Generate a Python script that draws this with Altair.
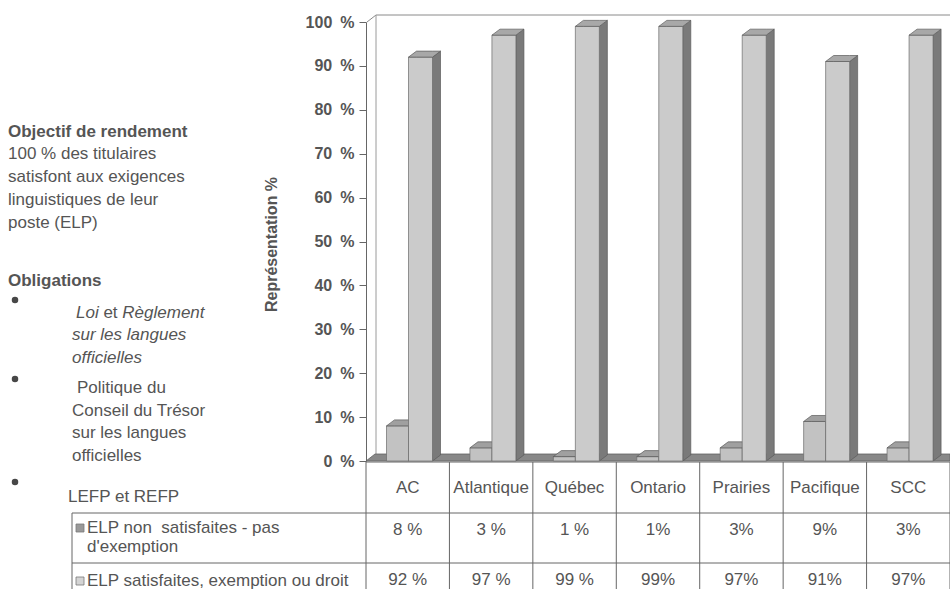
import altair as alt
import pandas as pd

# ---------------- data ----------------
categories = ["AC", "Atlantique", "Québec", "Ontario", "Prairies", "Pacifique", "SCC"]
elp_non_satisfaites = [8, 3, 1, 1, 3, 9, 3]
elp_satisfaites = [92, 97, 99, 99, 97, 91, 97]
# how each column of the table prints its percentages ("8 %" vs "1%")
pct_sep = [" ", " ", " ", "", "", "", ""]
series_labels = [["ELP non\u00a0 satisfaites - pas", "d'exemption"],
                 ["ELP satisfaites, exemption ou droit"]]
y_ticks = [0, 10, 20, 30, 40, 50, 60, 70, 80, 90, 100]
axis_title = "Représentation %"

objectif_title = "Objectif de rendement"
objectif_lines = ["100 % des titulaires", "satisfont aux exigences",
                  "linguistiques de leur", "poste (ELP)"]
obligations_title = "Obligations"
loi_words = ["Loi", "et", "Règlement"]
loi_lines = ["sur les langues", "officielles"]
politique_lines = ["Politique du", "Conseil du Trésor", "sur les langues", "officielles"]
lefp_line = "LEFP et REFP"

# ---------------- layout ----------------
W, H = 950, 589
PL, PT = 366, 22            # top-left corner of the plotting area
PW, PH = W - PL, 439        # plotting area size (0 % sits at y = 461)
N = len(categories)
COL = PW / N
PCT = PH / 100
FONT = "Liberation Sans"
TXT = "#555555"
LINE = "#666666"


def ux(px):
    return px / COL


def uy(px):
    return px / PCT


def vx(cx):
    return cx - PL


def vy(cy):
    return cy - PT


xs = alt.Scale(domain=[0, N], range=[0, PW], nice=False, zero=False)
ys = alt.Scale(domain=[0, 100], range=[PH, 0], nice=False, zero=False)
y_axis = alt.Axis(
    values=y_ticks, labelExpr="datum.value + '\u2002%'",
    labelFont=FONT, labelFontSize=16, labelFontWeight="bold", labelColor=TXT,
    labelPadding=5, tickSize=7, tickColor=LINE, domainColor=LINE, grid=False,
    title=axis_title, titleFont=FONT, titleFontSize=16, titleFontWeight="bold",
    titleColor=TXT, titleAngle=270, titleX=271 - PL, titleY=244 - PT,
    titleAlign="center", titleBaseline="middle",
)

# 3D bar geometry: front span inside a column (px), depth of the box (px)
BAR_SPANS = [(20.5, 42.5), (42.5, 66.5)]
DX, DY = ux(8), uy(6)
FRONT = ["#c2c2c2", "#cbcbcb"]
TOP = ["#a0a0a0", "#a8a8a8"]
SIDE = ["#808080", "#7a7a7a"]
SWATCH = ["#999999", "#d4d4d4"]

layers = []
one = pd.DataFrame({"a": [0]})


def rule(x, y, x2=None, y2=None, color=LINE, width=1):
    enc = dict(x=alt.value(x), y=alt.value(y))
    if x2 is not None:
        enc["x2"] = alt.value(x2)
    if y2 is not None:
        enc["y2"] = alt.value(y2)
    return alt.Chart(one).mark_rule(color=color, strokeWidth=width).encode(**enc)


# back wall and side wall outline
wx, wy = 9, 7
layers.append(rule(vx(367), vy(22), vx(367) + wx, vy(22) - wy, color="#8a8a8a"))
layers.append(rule(vx(367) + wx, vy(22) - wy, PW, vy(22) - wy, color="#8a8a8a"))
layers.append(rule(vx(367) + wx, vy(22) - wy, None, vy(461) - wy, color="#9a9a9a"))

# floor
floor = pd.DataFrame({"x": [0, ux(wx), N], "yt": [0, uy(wy), uy(wy)], "yb": [0, 0, 0]})
layers.append(
    alt.Chart(floor).mark_area(fill="#888888", stroke="#626262", strokeWidth=0.8).encode(
        x=alt.X("x:Q", scale=xs, axis=None),
        y=alt.Y("yt:Q", scale=ys, axis=y_axis),
        y2="yb:Q",
    )
)

# bars: side face, front face and top face for each series
for s, vals in enumerate([elp_non_satisfaites, elp_satisfaites]):
    fronts, sides, tops = [], [], []
    for i, v in enumerate(vals):
        x0 = i + ux(BAR_SPANS[s][0])
        x1 = i + ux(BAR_SPANS[s][1])
        k = f"{s}-{i}"
        fronts.append(dict(k=k, x0=x0, x1=x1, y0=0, y1=v))
        sides += [dict(k=k, x=x1, yt=v, yb=0),
                  dict(k=k, x=x1 + DX, yt=v + DY, yb=DY)]
        tops += [dict(k=k, x=x0, yt=v, yb=v),
                 dict(k=k, x=x0 + DX, yt=v + DY, yb=v),
                 dict(k=k, x=x1, yt=v + DY, yb=v),
                 dict(k=k, x=x1 + DX, yt=v + DY, yb=v + DY)]
    layers.append(
        alt.Chart(pd.DataFrame(sides)).mark_area(
            fill=SIDE[s], stroke="#5a5a5a", strokeWidth=0.7).encode(
            x=alt.X("x:Q", scale=xs, axis=None),
            y=alt.Y("yt:Q", scale=ys, axis=y_axis), y2="yb:Q", detail="k:N")
    )
    layers.append(
        alt.Chart(pd.DataFrame(fronts)).mark_rect(
            fill=FRONT[s], stroke="#6a6a6a", strokeWidth=0.7).encode(
            x=alt.X("x0:Q", scale=xs, axis=None), x2="x1:Q",
            y=alt.Y("y1:Q", scale=ys, axis=y_axis), y2="y0:Q")
    )
    layers.append(
        alt.Chart(pd.DataFrame(tops)).mark_area(
            fill=TOP[s], stroke="#5a5a5a", strokeWidth=0.7).encode(
            x=alt.X("x:Q", scale=xs, axis=None),
            y=alt.Y("yt:Q", scale=ys, axis=y_axis), y2="yb:Q", detail="k:N")
    )

# ---------------- data table under the plot ----------------
TAB_LEFT = 72
ROW_TOP = [462, 513, 563]
borders = pd.DataFrame({"b": list(range(N + 1))})
layers.append(
    alt.Chart(borders).mark_rule(color=LINE, strokeWidth=1).encode(
        x=alt.X("b:Q", scale=xs, axis=None),
        y=alt.value(vy(ROW_TOP[0])), y2=alt.value(vy(H + 10)))
)
layers.append(rule(0, vy(ROW_TOP[0]), PW, None))
for r in ROW_TOP[1:]:
    layers.append(rule(vx(TAB_LEFT), vy(r), PW, None))
layers.append(rule(vx(TAB_LEFT), vy(ROW_TOP[1]), None, vy(H + 10)))

table = pd.DataFrame({
    "c": [i + 0.5 for i in range(N)],
    "cat": categories,
    "r1": [f"{v}{sp}%" for v, sp in zip(elp_non_satisfaites, pct_sep)],
    "r2": [f"{v}{sp}%" for v, sp in zip(elp_satisfaites, pct_sep)],
})
for field, cy in [("cat", 488), ("r1", 530), ("r2", 580)]:
    layers.append(
        alt.Chart(table).mark_text(font=FONT, fontSize=17, color=TXT, baseline="middle").encode(
            x=alt.X("c:Q", scale=xs, axis=None), y=alt.value(vy(cy)), text=f"{field}:N")
    )

# legend cells
sw = pd.DataFrame({"px": [vx(TAB_LEFT + 8)] * 2, "py": [vy(528), vy(581)], "s": [0, 1]})
layers.append(
    alt.Chart(sw).mark_square(size=64, stroke="#7a7a7a", strokeWidth=0.8, opacity=1).encode(
        x=alt.X("px:Q", scale=None), y=alt.Y("py:Q", scale=None),
        fill=alt.Fill("s:N", scale=alt.Scale(domain=[0, 1], range=SWATCH), legend=None))
)
leg_rows = []
for lines, cy in zip(series_labels, [528, 581]):
    for j, t in enumerate(lines):
        leg_rows.append(dict(t=t, px=vx(TAB_LEFT + 15), py=vy(cy + 19 * j)))

# ---------------- text block on the left ----------------
LX = 72
regular = [dict(t=t, px=vx(8), py=vy(154 + 23 * j)) for j, t in enumerate(objectif_lines)]
regular += [dict(t=loi_words[1], px=vx(LX + 4 + 27.4), py=vy(313))]
regular += [dict(t=t, px=vx(LX + (5 if j == 0 else 0)), py=vy(388 + 22.5 * j))
            for j, t in enumerate(politique_lines)]
regular += [dict(t=lefp_line, px=vx(LX - 4), py=vy(497))]
regular += leg_rows
bold = [dict(t=objectif_title, px=vx(8), py=vy(132)),
        dict(t=obligations_title, px=vx(8), py=vy(281))]
italic = [dict(t=loi_words[0], px=vx(LX + 4), py=vy(313)),
          dict(t=loi_words[2], px=vx(LX + 4 + 46.3), py=vy(313))]
italic += [dict(t=t, px=vx(LX), py=vy(335 + 23 * j)) for j, t in enumerate(loi_lines)]

# list bullets
bullets = pd.DataFrame({"px": [vx(15)] * 3, "py": [vy(300), vy(379), vy(482)]})
layers.append(
    alt.Chart(bullets).mark_circle(size=42, color="#474747", opacity=1).encode(
        x=alt.X("px:Q", scale=None), y=alt.Y("py:Q", scale=None))
)

for rows, weight, style in [(regular, "normal", "normal"), (bold, "bold", "normal"),
                            (italic, "normal", "italic")]:
    layers.append(
        alt.Chart(pd.DataFrame(rows)).mark_text(
            align="left", baseline="middle", font=FONT, fontSize=17,
            fontWeight=weight, fontStyle=style, color=TXT).encode(
            x=alt.X("px:Q", scale=None), y=alt.Y("py:Q", scale=None), text="t:N")
    )

chart = alt.layer(*layers).properties(
    width=PW, height=PH,
    padding={"left": PL, "top": PT, "right": 0, "bottom": H - PT - PH},
    autosize=alt.AutoSizeParams(type="none"),
    background="#ffffff",
).configure_view(stroke=None)

chart.save("out.html", embed_options={"renderer": "svg", "actions": False})
